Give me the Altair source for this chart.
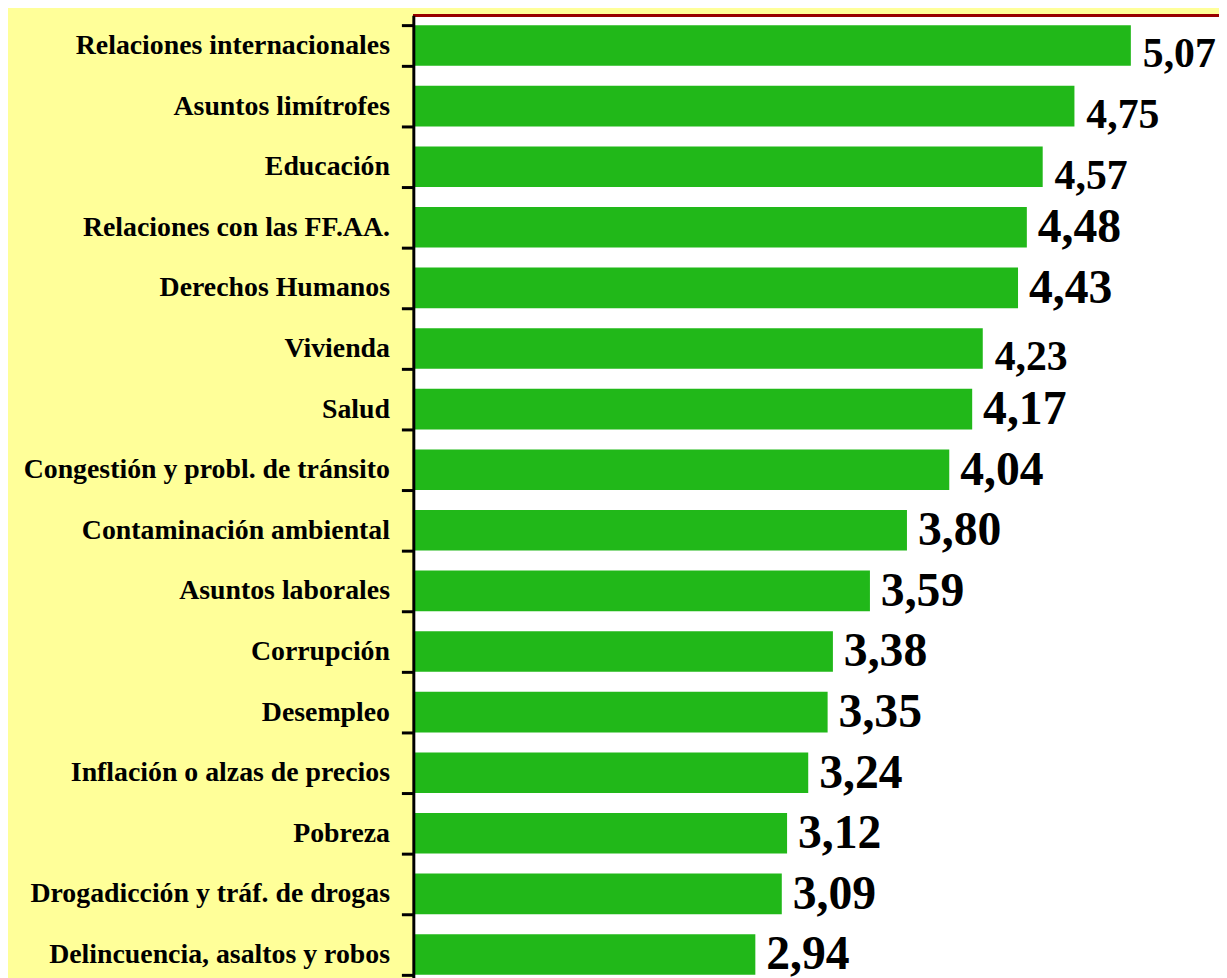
import altair as alt
import pandas as pd

temas = [
    "Relaciones internacionales",
    "Asuntos limítrofes",
    "Educación",
    "Relaciones con las FF.AA.",
    "Derechos Humanos",
    "Vivienda",
    "Salud\u00a0",
    "Congestión y probl. de tránsito",
    "Contaminación ambiental",
    "Asuntos laborales",
    "Corrupción",
    "Desempleo",
    "Inflación o alzas de precios",
    "Pobreza",
    "Drogadicción y tráf. de drogas",
    "Delincuencia, asaltos y robos",
]
valores = [5.07, 4.75, 4.57, 4.48, 4.43, 4.23, 4.17, 4.04, 3.80, 3.59, 3.38, 3.35, 3.24, 3.12, 3.09, 2.94]

# rows whose value label is printed in the smaller type
filas_etiqueta_pequena = ["Relaciones internacionales", "Asuntos limítrofes", "Educación", "Vivienda"]

df = pd.DataFrame({"tema": temas, "valor": valores})
df["etiqueta"] = [f"{v:.2f}".replace(".", ",") for v in valores]
df["pequena"] = df["tema"].isin(filas_etiqueta_pequena)

GREEN = "#21B819"
YELLOW = "#FFFF99"
DARKRED = "#990000"
FONT = "Liberation Serif"

y_enc = alt.Y(
    "tema:N",
    sort=temas,
    scale=alt.Scale(paddingInner=0.33, paddingOuter=0.165),
    axis=alt.Axis(
        title=None,
        domain=True,
        domainColor="black",
        domainWidth=3,
        ticks=True,
        tickColor="black",
        tickWidth=3,
        tickSize=12,
        tickBand="extent",
        labelFont=FONT,
        labelFontWeight="bold",
        labelFontSize=28,
        labelColor="black",
        labelPadding=12,
        labelLimit=600,
        zindex=1,
    ),
)
x_scale = alt.Scale(domain=[1, 5.57], nice=False, zero=False)

base = alt.Chart(df)

bars = base.mark_bar(color=GREEN).encode(
    y=y_enc,
    x=alt.X("valor:Q", scale=x_scale, axis=None),
    x2=alt.datum(1),
)

text_small = base.transform_filter("datum.pequena").mark_text(
    align="left", baseline="alphabetic", dx=12, dy=22,
    font=FONT, fontWeight="bold", fontSize=42, color="black",
).encode(
    y=alt.Y("tema:N", sort=temas),
    x=alt.X("valor:Q", scale=x_scale, axis=None),
    text="etiqueta:N",
)

text_large = base.transform_filter("!datum.pequena").mark_text(
    align="left", baseline="alphabetic", dx=11, dy=15,
    font=FONT, fontWeight="bold", fontSize=48, color="black",
).encode(
    y=alt.Y("tema:N", sort=temas),
    x=alt.X("valor:Q", scale=x_scale, axis=None),
    text="etiqueta:N",
)

top_line = alt.Chart(df).mark_rule(color=DARKRED, strokeWidth=2).encode(
    y=alt.value(0)
)

chart = (
    alt.layer(bars, text_small, text_large, top_line)
    .properties(
        width=811,
        height=976,
        autosize=alt.AutoSizeParams(type="none"),
        padding={"left": 408, "top": 4, "right": 0, "bottom": 0},
        background=YELLOW,
    )
    .configure_view(fill="white", stroke=None)
)

chart.save("out.html", embed_options={"renderer": "svg", "actions": False})
